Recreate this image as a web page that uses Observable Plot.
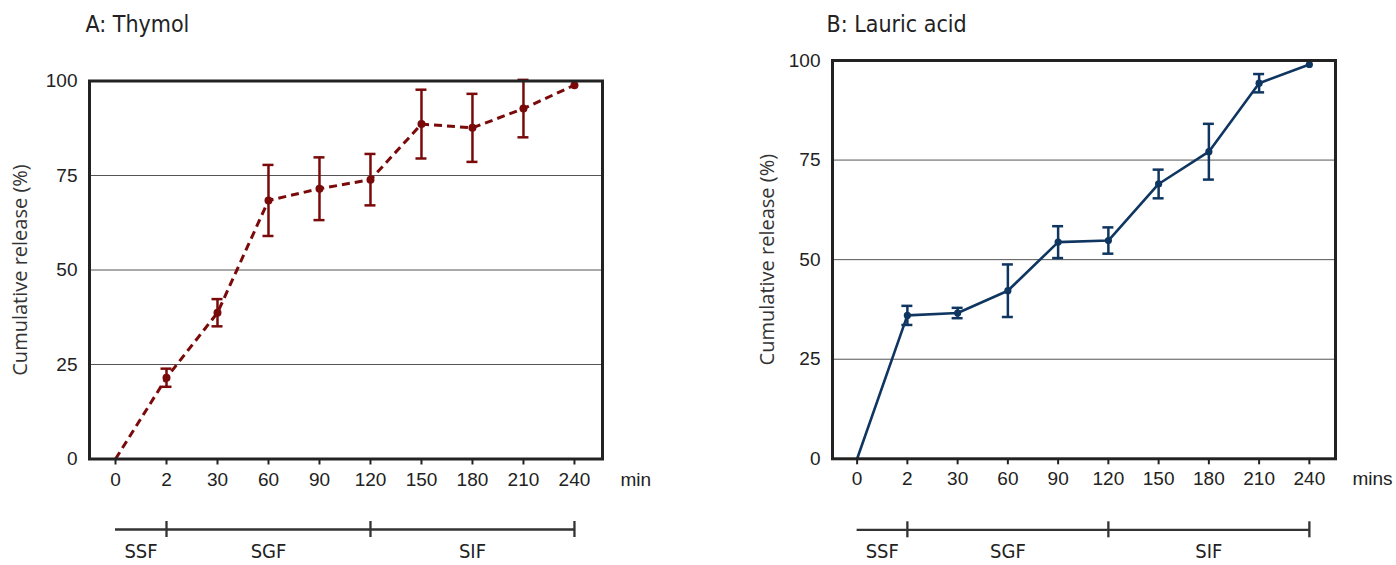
<!DOCTYPE html>
<html><head><meta charset="utf-8">
<script src="https://cdn.jsdelivr.net/npm/d3@7"></script>
<script src="https://cdn.jsdelivr.net/npm/@observablehq/plot@0.6"></script>
<style>
body{margin:0;background:#fff;}
#wrap{position:relative;width:1396px;height:565px;overflow:hidden;background:#fff;}
#wrap svg{position:absolute;top:0;}
</style></head><body><div id="wrap"></div>
<script>
// ---- data ----
const times = ["0", "2", "30", "60", "90", "120", "150", "180", "210", "240"];
const thymolMean = [0, 21.5, 38.7, 68.4, 71.5, 73.9, 88.6, 87.6, 92.7, 98.9];
const thymolErr  = [0, 2.4, 3.6, 9.4, 8.3, 6.8, 9.1, 9.0, 7.6, 0];
const lauricMean = [0, 36.0, 36.6, 42.2, 54.4, 54.8, 69.0, 77.1, 94.3, 99.0];
const lauricErr  = [0, 2.4, 1.3, 6.6, 4.0, 3.3, 3.6, 7.0, 2.3, 0];
const yTicks = [0, 25, 50, 75, 100];
const yGrid = [25, 50, 75];
const phaseNames = ["SSF", "SGF", "SIF"];
const phaseStart = ["0", "2", "120"];
const phaseEnd = ["2", "120", "240"];
const yLabel = "Cumulative release (%)";

const narrow = "'Liberation Sans Narrow', 'DejaVu Sans Condensed', 'Liberation Sans', sans-serif";

function panel(o) {
  const rows = times.map((t, i) => ({i, t, v: o.mean[i], e: o.err[i]}));
  const bars = rows.filter(d => d.e > 0);
  const pts = rows.filter(d => d.v > 0);
  const phases = phaseNames.map((n, k) => ({name: n, from: times.indexOf(phaseStart[k]), to: times.indexOf(phaseEnd[k])}));
  const bounds = phases.map(p => p.to);
  return Plot.plot({
    width: 698, height: 565,
    marginLeft: o.ml, marginRight: o.mr, marginTop: o.mt, marginBottom: o.mb,
    x: {domain: o.xDomain, label: null},
    y: {domain: [0, 100], label: null},
    style: {fontFamily: "'Liberation Sans', Arial, sans-serif", fontSize: "19px", color: "#222", background: "white", overflow: "visible"},
    marks: [
      Plot.ruleY(yGrid, {stroke: "#555", strokeWidth: 1}),
      Plot.axisY({ticks: yTicks, tickSize: 0, tickPadding: 12, fontSize: 19, label: null}),
      Plot.axisX({ticks: d3.range(times.length), tickFormat: i => times[i], tickSize: 6, tickPadding: 7, fontSize: 19, strokeWidth: 2, label: null}),
      Plot.line(rows, {x: "i", y: "v", stroke: o.color, strokeWidth: o.lw, strokeDasharray: o.dash, strokeLinecap: "butt"}),
      Plot.ruleX(bars, {x: "i", y1: d => d.v - d.e, y2: d => d.v + d.e, stroke: o.color, strokeWidth: 2.5}),
      Plot.ruleY(bars, {y: d => d.v + d.e, x1: "i", x2: "i", insetLeft: -5.5, insetRight: -5.5, stroke: o.color, strokeWidth: 2.5}),
      Plot.ruleY(bars, {y: d => d.v - d.e, x1: "i", x2: "i", insetLeft: -5.5, insetRight: -5.5, stroke: o.color, strokeWidth: 2.5}),
      Plot.dot(pts, {x: "i", y: "v", r: o.r, fill: o.color}),
      Plot.frame({stroke: "#222", strokeWidth: 3}),
      Plot.text([o.title], {frameAnchor: "top-left", textAnchor: "start", lineAnchor: "bottom", dx: o.titleDx, dy: o.titleDy, fontSize: 23, fontFamily: narrow, fill: "#222"}),
      Plot.text([yLabel], {frameAnchor: "left", rotate: -90, dx: o.labelDx, lineAnchor: "middle", textAnchor: "middle", fontSize: 20, fontFamily: "'Open Sans', sans-serif", fill: "#333"}),
      Plot.text([o.unit], {frameAnchor: "bottom-right", textAnchor: "start", lineAnchor: "top", dx: o.unitDx, dy: 13, fontSize: 19, fill: "#222"}),
      Plot.ruleY(phases, {x1: "from", x2: "to", y: () => 0, dy: o.phaseDy, stroke: "#333", strokeWidth: 2.3}),
      Plot.ruleX(bounds, {x: d => d, y1: () => 0, y2: () => 0, insetTop: -8, insetBottom: -8, dy: o.phaseDy, stroke: "#333", strokeWidth: 2.3}),
      Plot.text(phases, {x: d => (d.from + d.to) / 2, y: () => 0, text: "name", dy: o.phaseDy + 14, lineAnchor: "top", fontSize: 20, fontFamily: narrow, fill: "#222"})
    ]
  });
}

const wrap = document.getElementById("wrap");
const a = panel({
  title: "A: Thymol", mean: thymolMean, err: thymolErr, color: "#7a0a0a", lw: 3, dash: "8,5", r: 4,
  ml: 89, mr: 96, mt: 80.5, mb: 106.5, xDomain: [-0.51, 9.55],
  titleDx: -4, titleDy: -49.5, labelDx: -69, unitDx: 18, unit: "min", phaseDy: 70.5
});
a.style.left = "0px";
wrap.appendChild(a);
const b = panel({
  title: "B: Lauric acid", mean: lauricMean, err: lauricErr, color: "#0f3660", lw: 2.6, dash: null, r: 3.6,
  ml: 134, mr: 61, mt: 60, mb: 106.7, xDomain: [-0.49, 9.52],
  titleDx: -6, titleDy: -29, labelDx: -65, unitDx: 17, unit: "mins", phaseDy: 71
});
b.style.left = "698px";
wrap.appendChild(b);
</script></body></html>
